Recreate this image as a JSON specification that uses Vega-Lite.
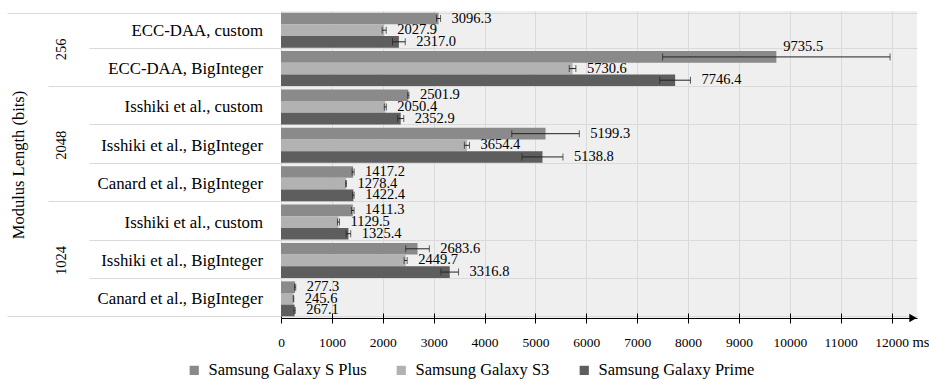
{
  "$schema": "https://vega.github.io/schema/vega-lite/v6.json",
  "width": 636,
  "height": 307,
  "autosize": {"type": "none"},
  "padding": {"left": 281, "top": 11, "right": 12, "bottom": 61},
  "config": {
    "font": "Liberation Serif",
    "view": {"stroke": null, "fill": "#efefef"},
    "axis": {"labelFont": "Liberation Serif", "titleFont": "Liberation Serif", "labelColor": "#000", "titleColor": "#000", "titleFontWeight": "normal"},
    "legend": {"labelFont": "Liberation Serif", "labelColor": "#000"},
    "text": {"font": "Liberation Serif"}
  },
  "data": {
    "values": [
      {"row": "256|ECC-DAA, custom", "device": "Samsung Galaxy S Plus", "v": 3096.3, "lo": 3056.3, "hi": 3136.3},
      {"row": "256|ECC-DAA, custom", "device": "Samsung Galaxy S3", "v": 2027.9, "lo": 1987.9, "hi": 2067.9},
      {"row": "256|ECC-DAA, custom", "device": "Samsung Galaxy Prime", "v": 2317.0, "lo": 2192.0, "hi": 2442.0},
      {"row": "256|ECC-DAA, BigInteger", "device": "Samsung Galaxy S Plus", "v": 9735.5, "lo": 7500.5, "hi": 11970.5},
      {"row": "256|ECC-DAA, BigInteger", "device": "Samsung Galaxy S3", "v": 5730.6, "lo": 5665.6, "hi": 5795.6},
      {"row": "256|ECC-DAA, BigInteger", "device": "Samsung Galaxy Prime", "v": 7746.4, "lo": 7444.4, "hi": 8048.4},
      {"row": "2048|Isshiki et al., custom", "device": "Samsung Galaxy S Plus", "v": 2501.9, "lo": 2489.9, "hi": 2513.9},
      {"row": "2048|Isshiki et al., custom", "device": "Samsung Galaxy S3", "v": 2050.4, "lo": 2030.4, "hi": 2070.4},
      {"row": "2048|Isshiki et al., custom", "device": "Samsung Galaxy Prime", "v": 2352.9, "lo": 2292.9, "hi": 2412.9},
      {"row": "2048|Isshiki et al., BigInteger", "device": "Samsung Galaxy S Plus", "v": 5199.3, "lo": 4535.3, "hi": 5863.3},
      {"row": "2048|Isshiki et al., BigInteger", "device": "Samsung Galaxy S3", "v": 3654.4, "lo": 3604.4, "hi": 3704.4},
      {"row": "2048|Isshiki et al., BigInteger", "device": "Samsung Galaxy Prime", "v": 5138.8, "lo": 4735.8, "hi": 5541.8},
      {"row": "2048|Canard et al., BigInteger", "device": "Samsung Galaxy S Plus", "v": 1417.2, "lo": 1397.2, "hi": 1437.2},
      {"row": "2048|Canard et al., BigInteger", "device": "Samsung Galaxy S3", "v": 1278.4, "lo": 1270.4, "hi": 1286.4},
      {"row": "2048|Canard et al., BigInteger", "device": "Samsung Galaxy Prime", "v": 1422.4, "lo": 1407.4, "hi": 1437.4},
      {"row": "1024|Isshiki et al., custom", "device": "Samsung Galaxy S Plus", "v": 1411.3, "lo": 1386.3, "hi": 1436.3},
      {"row": "1024|Isshiki et al., custom", "device": "Samsung Galaxy S3", "v": 1129.5, "lo": 1109.5, "hi": 1149.5},
      {"row": "1024|Isshiki et al., custom", "device": "Samsung Galaxy Prime", "v": 1325.4, "lo": 1280.4, "hi": 1370.4},
      {"row": "1024|Isshiki et al., BigInteger", "device": "Samsung Galaxy S Plus", "v": 2683.6, "lo": 2451.6, "hi": 2915.6},
      {"row": "1024|Isshiki et al., BigInteger", "device": "Samsung Galaxy S3", "v": 2449.7, "lo": 2419.7, "hi": 2479.7},
      {"row": "1024|Isshiki et al., BigInteger", "device": "Samsung Galaxy Prime", "v": 3316.8, "lo": 3143.8, "hi": 3489.8},
      {"row": "1024|Canard et al., BigInteger", "device": "Samsung Galaxy S Plus", "v": 277.3, "lo": 265.3, "hi": 289.3},
      {"row": "1024|Canard et al., BigInteger", "device": "Samsung Galaxy S3", "v": 245.6, "lo": 240.6, "hi": 250.6},
      {"row": "1024|Canard et al., BigInteger", "device": "Samsung Galaxy Prime", "v": 267.1, "lo": 255.1, "hi": 279.1}
    ]
  },
  "layer": [
    {
      "mark": {"type": "bar"},
      "encoding": {
        "y": {
          "field": "row", "type": "nominal",
          "scale": {"domain": ["256|ECC-DAA, custom", "256|ECC-DAA, BigInteger", "2048|Isshiki et al., custom", "2048|Isshiki et al., BigInteger", "2048|Canard et al., BigInteger", "1024|Isshiki et al., custom", "1024|Isshiki et al., BigInteger", "1024|Canard et al., BigInteger"], "paddingInner": 0.09, "paddingOuter": 0.045},
          "axis": {
            "orient": "left",
            "title": null,
            "domain": false,
            "grid": true,
            "gridColor": "#dadada",
            "gridWidth": 1,
            "tickBand": "extent",
            "ticks": true,
            "tickColor": "#dadada",
            "tickWidth": 1,
            "tickSize": {"expr": "(datum.value == null || datum.value == '1024|Canard et al., BigInteger') ? 274 : ((datum.value == '256|ECC-DAA, BigInteger' || datum.value == '2048|Canard et al., BigInteger') ? 233 : 192)"},
            "labelPadding": {"expr": "(datum.value == null || datum.value == '1024|Canard et al., BigInteger') ? -255.5 : ((datum.value == '256|ECC-DAA, BigInteger' || datum.value == '2048|Canard et al., BigInteger') ? -214.5 : -173.5)"},
            "labelExpr": "split(datum.value, '|')[1]",
            "labelFont": "Liberation Serif",
            "labelFontSize": 16.8,
            "labelAlign": "right",
            "labelBaseline": "middle",
            "labelLimit": 300
          }
        },
        "yOffset": {"field": "device", "type": "nominal", "scale": {"domain": ["Samsung Galaxy S Plus", "Samsung Galaxy S3", "Samsung Galaxy Prime"], "paddingInner": 0, "paddingOuter": 0}},
        "x": {
          "field": "v", "type": "quantitative",
          "scale": {"domain": [0, 12500], "nice": false, "zero": true},
          "axis": {
            "values": [0, 1000, 2000, 3000, 4000, 5000, 6000, 7000, 8000, 9000, 10000, 11000, 12000],
            "format": "d",
            "title": "ms",
            "titleFont": "Liberation Serif",
            "titleAnchor": "end",
            "titleAlign": "left",
            "titleX": 631,
            "titleY": 28,
            "titleBaseline": "alphabetic",
            "titleFontSize": 14.5,
            "labelFont": "Liberation Serif",
            "labelFontSize": 13.5,
            "labelPadding": 12,
            "labelFlush": false,
            "labelOverlap": false,
            "tickSize": 5,
            "tickColor": "#000",
            "domainColor": "#000",
            "grid": true,
            "gridColor": "#dadada",
            "gridWidth": 1
          }
        },
        "color": {
          "field": "device", "type": "nominal",
          "scale": {"domain": ["Samsung Galaxy S Plus", "Samsung Galaxy S3", "Samsung Galaxy Prime"], "range": ["#8a8a8a", "#b2b2b2", "#5e5e5e"]},
          "legend": {
            "orient": "none",
            "legendX": -95,
            "legendY": 351,
            "direction": "horizontal",
            "title": null,
            "symbolType": "square",
            "symbolSize": 85,
            "symbolStrokeWidth": 0,
            "labelFont": "Liberation Serif",
            "labelFontSize": 16.5,
            "labelOffset": 6,
            "columnPadding": 26,
            "padding": 0
          }
        }
      }
    },
    {
      "mark": {"type": "rule", "color": "#222", "strokeWidth": 1},
      "encoding": {
        "y": {
          "field": "row", "type": "nominal",
          "scale": {"domain": ["256|ECC-DAA, custom", "256|ECC-DAA, BigInteger", "2048|Isshiki et al., custom", "2048|Isshiki et al., BigInteger", "2048|Canard et al., BigInteger", "1024|Isshiki et al., custom", "1024|Isshiki et al., BigInteger", "1024|Canard et al., BigInteger"], "paddingInner": 0.09, "paddingOuter": 0.045},
          "axis": {
            "orient": "left",
            "offset": 200,
            "title": "Modulus Length (bits)",
            "titleFont": "Liberation Serif",
            "titleFontSize": 16.5,
            "titlePadding": 27,
            "domain": false,
            "ticks": false,
            "grid": false,
            "values": ["256|ECC-DAA, BigInteger", "2048|Isshiki et al., BigInteger", "1024|Isshiki et al., BigInteger"],
            "labelExpr": "split(datum.value, '|')[0]",
            "labelFont": "Liberation Serif",
            "labelAngle": -90,
            "labelAlign": "center",
            "labelBaseline": "bottom",
            "labelFontSize": 14.5,
            "labelPadding": 13,
            "labelOffset": {"expr": "datum.value == '256|ECC-DAA, BigInteger' ? -19.2 : 0"}
          }
        },
        "yOffset": {"field": "device", "type": "nominal", "scale": {"domain": ["Samsung Galaxy S Plus", "Samsung Galaxy S3", "Samsung Galaxy Prime"], "paddingInner": 0, "paddingOuter": 0}},
        "x": {"field": "lo", "type": "quantitative", "scale": {"domain": [0, 12500], "nice": false}, "axis": null},
        "x2": {"field": "hi"}
      }
    },
    {
      "mark": {"type": "tick", "color": "#222", "thickness": 1, "size": 7, "orient": "vertical"},
      "encoding": {
        "y": {"field": "row", "type": "nominal", "axis": null},
        "yOffset": {"field": "device", "type": "nominal", "scale": {"domain": ["Samsung Galaxy S Plus", "Samsung Galaxy S3", "Samsung Galaxy Prime"], "paddingInner": 0, "paddingOuter": 0}},
        "x": {"field": "lo", "type": "quantitative", "scale": {"domain": [0, 12500], "nice": false}, "axis": null}
      }
    },
    {
      "mark": {"type": "tick", "color": "#222", "thickness": 1, "size": 7, "orient": "vertical"},
      "encoding": {
        "y": {"field": "row", "type": "nominal", "axis": null},
        "yOffset": {"field": "device", "type": "nominal", "scale": {"domain": ["Samsung Galaxy S Plus", "Samsung Galaxy S3", "Samsung Galaxy Prime"], "paddingInner": 0, "paddingOuter": 0}},
        "x": {
          "field": "hi", "type": "quantitative", "scale": {"domain": [0, 12500], "nice": false},
          "axis": {
            "orient": "top",
            "offset": -307,
            "values": [0, 1000, 2000, 3000, 4000, 5000, 6000, 7000, 8000, 9000, 10000, 11000, 12000],
            "labels": false,
            "domain": false,
            "grid": false,
            "title": null,
            "ticks": true,
            "tickSize": 5,
            "tickColor": "#000"
          }
        }
      }
    },
    {
      "transform": [{"filter": "datum.hi < 11000"}],
      "mark": {"type": "text", "align": "left", "baseline": "middle", "dx": 11, "fontSize": 14.5, "font": "Liberation Serif", "color": "#000"},
      "encoding": {
        "y": {"field": "row", "type": "nominal", "axis": null},
        "yOffset": {"field": "device", "type": "nominal", "scale": {"domain": ["Samsung Galaxy S Plus", "Samsung Galaxy S3", "Samsung Galaxy Prime"], "paddingInner": 0, "paddingOuter": 0}},
        "x": {"field": "hi", "type": "quantitative", "scale": {"domain": [0, 12500], "nice": false}, "axis": null},
        "text": {"field": "v", "type": "quantitative", "format": ".1f"}
      }
    },
    {
      "transform": [{"filter": "datum.hi >= 11000"}],
      "mark": {"type": "text", "align": "left", "baseline": "middle", "dx": 7, "dy": -10, "fontSize": 14.5, "font": "Liberation Serif", "color": "#000"},
      "encoding": {
        "y": {"field": "row", "type": "nominal", "axis": null},
        "yOffset": {"field": "device", "type": "nominal", "scale": {"domain": ["Samsung Galaxy S Plus", "Samsung Galaxy S3", "Samsung Galaxy Prime"], "paddingInner": 0, "paddingOuter": 0}},
        "x": {"field": "v", "type": "quantitative", "scale": {"domain": [0, 12500], "nice": false}, "axis": null},
        "text": {"field": "v", "type": "quantitative", "format": ".1f"}
      }
    },
    {
      "data": {"values": [{"end": 12420}]},
      "mark": {"type": "point", "shape": "triangle-right", "filled": true, "color": "#000", "size": 70, "opacity": 1},
      "encoding": {
        "x": {"field": "end", "type": "quantitative", "scale": {"domain": [0, 12500], "nice": false}, "axis": null},
        "y": {"value": "height"}
      }
    }
  ],
  "resolve": {"axis": {"x": "independent", "y": "independent"}}
}
